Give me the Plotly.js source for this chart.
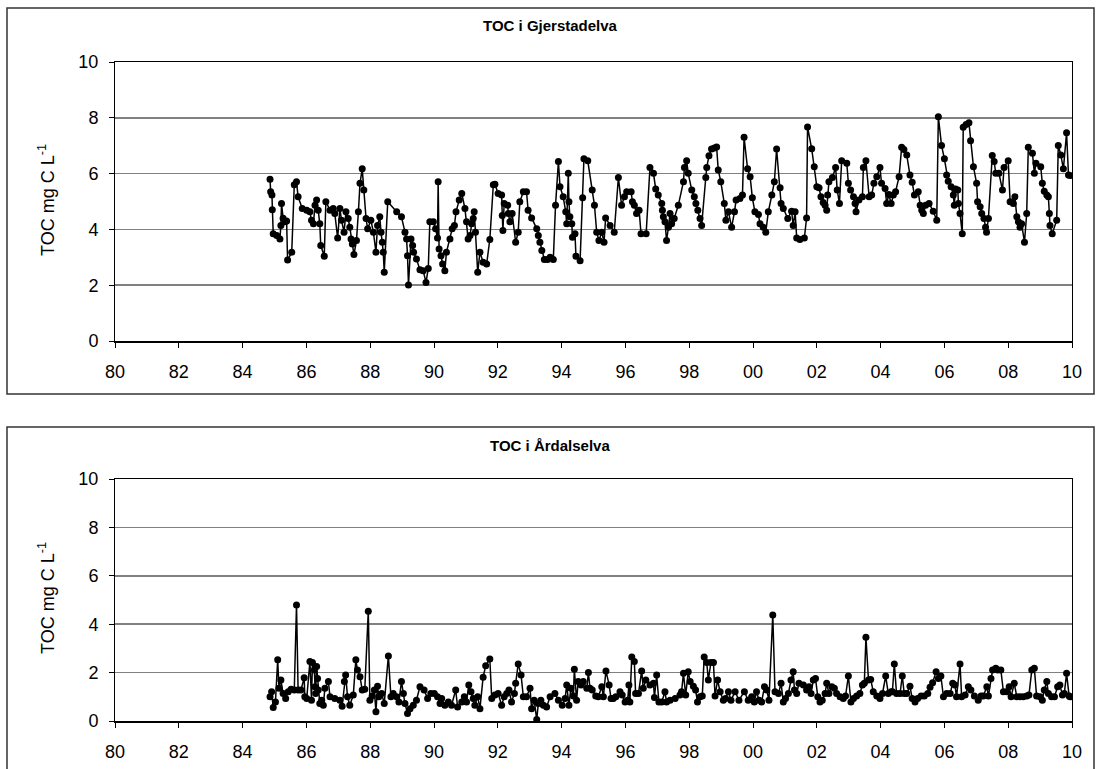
<!DOCTYPE html>
<html>
<head>
<meta charset="utf-8">
<script src="https://cdn.plot.ly/plotly-3.0.1.min.js"></script>
<style>html,body{margin:0;padding:0;background:#fff;}#chart{width:1096px;height:769px;}</style>
</head>
<body>
<div id="chart"></div>
<script>
// ---- Data (decimal year, TOC mg C/L) ----
const yearsGjerstad = [
1984.86,1984.88,1984.92,1984.93,1984.96,1985.07,1985.17,1985.20,1985.22,1985.27,1985.33,1985.38,1985.41,1985.54,1985.62,1985.69,1985.74,1985.87,
1986.01,1986.11,1986.16,1986.22,1986.27,1986.32,1986.37,1986.42,1986.45,1986.56,1986.61,1986.74,1986.84,1986.89,1986.98,
1987.05,1987.10,1987.18,1987.24,1987.31,1987.36,1987.40,1987.44,1987.49,1987.57,1987.63,1987.68,1987.75,1987.80,1987.87,1987.92,
1988.02,1988.10,1988.18,1988.23,1988.30,1988.34,1988.38,1988.41,1988.44,1988.55,1988.83,1988.98,
1989.09,1989.14,1989.17,1989.20,1989.28,1989.33,1989.36,1989.45,1989.56,1989.66,1989.75,1989.82,1989.87,1989.98,
1990.05,1990.11,1990.13,1990.16,1990.22,1990.27,1990.34,1990.39,1990.50,1990.57,1990.64,1990.69,1990.79,1990.87,1990.97,
1991.02,1991.07,1991.13,1991.18,1991.23,1991.26,1991.30,1991.37,1991.44,1991.54,1991.65,1991.75,1991.86,1991.91,
1992.01,1992.12,1992.14,1992.16,1992.20,1992.31,1992.33,1992.38,1992.45,1992.56,1992.64,1992.69,1992.80,1992.90,1992.95,
1993.06,1993.22,1993.27,1993.32,1993.38,1993.46,1993.56,1993.64,1993.74,1993.81,1993.90,1993.95,
1994.05,1994.13,1994.16,1994.21,1994.23,1994.26,1994.32,1994.34,1994.42,1994.45,1994.58,1994.66,1994.70,1994.82,1994.96,
1995.03,1995.10,1995.17,1995.26,1995.33,1995.38,1995.52,1995.65,1995.78,1995.88,1995.97,
1996.04,1996.18,1996.22,1996.28,1996.35,1996.43,1996.49,1996.65,1996.77,1996.88,1996.95,
1997.03,1997.14,1997.16,1997.19,1997.24,1997.29,1997.35,1997.40,1997.45,1997.53,1997.66,1997.82,1997.85,1997.92,1997.97,
1998.08,1998.16,1998.21,1998.27,1998.34,1998.39,1998.52,1998.55,1998.62,1998.70,1998.79,1998.86,1998.91,1998.99,
1999.10,1999.15,1999.23,1999.33,1999.42,1999.47,1999.59,1999.67,1999.72,1999.83,1999.91,1999.98,
2000.06,2000.17,2000.22,2000.32,2000.40,2000.48,2000.59,2000.67,2000.74,2000.85,2000.88,2000.95,
2001.09,2001.21,2001.26,2001.32,2001.37,2001.47,2001.61,2001.68,2001.71,2001.84,2001.92,
2002.00,2002.07,2002.13,2002.20,2002.26,2002.31,2002.34,2002.38,2002.49,2002.59,2002.64,2002.71,2002.78,2002.94,2002.99,
2003.06,2003.15,2003.20,2003.23,2003.32,2003.43,2003.46,2003.54,2003.64,2003.72,2003.79,2003.88,2003.98,
2004.03,2004.14,2004.19,2004.26,2004.33,2004.40,2004.47,2004.58,2004.66,2004.73,2004.82,2004.92,2004.99,
2005.06,2005.18,2005.24,2005.29,2005.34,2005.41,2005.52,2005.65,2005.76,2005.81,2005.91,
2006.00,2006.07,2006.12,2006.21,2006.28,2006.31,2006.35,2006.42,2006.44,2006.49,2006.56,2006.59,2006.68,2006.77,2006.82,2006.91,
2007.01,2007.04,2007.12,2007.17,2007.24,2007.29,2007.32,2007.38,2007.50,2007.56,2007.61,2007.71,2007.82,2007.87,
2008.00,2008.06,2008.16,2008.21,2008.27,2008.32,2008.37,2008.42,2008.51,2008.58,2008.63,2008.76,2008.82,2008.87,
2009.02,2009.07,2009.13,2009.21,2009.26,2009.29,2009.31,2009.38,2009.52,2009.57,2009.65,2009.73,2009.83,2009.89,2009.94
];
const tocGjerstad = [
5.80,5.35,5.23,4.70,3.84,3.78,3.66,4.14,4.93,4.40,4.27,4.30,2.90,3.18,5.60,5.71,5.17,4.75,
4.69,4.63,4.33,4.20,4.87,5.05,4.69,4.20,3.42,3.04,4.99,4.69,4.75,4.57,3.69,
4.75,4.33,3.90,4.63,4.39,4.08,3.66,3.48,3.10,3.60,4.63,5.65,6.17,5.41,4.39,4.02,
4.33,3.90,3.18,4.14,4.45,3.90,3.54,3.18,2.46,4.99,4.63,4.45,
3.90,3.66,3.06,2.01,3.66,3.42,3.18,2.94,2.55,2.52,2.10,2.60,4.27,4.27,
4.02,3.69,5.71,3.30,3.06,2.76,2.52,3.18,3.66,4.02,4.14,4.63,5.05,5.29,4.75,
4.27,3.66,3.78,4.20,4.39,4.63,3.90,2.46,3.18,2.82,2.76,3.64,5.60,5.62,
5.29,5.23,4.50,3.96,4.93,4.87,4.57,4.27,4.57,3.54,3.90,4.99,5.35,5.35,4.69,
4.41,4.02,3.78,3.54,3.24,2.92,2.92,3.00,2.92,4.87,6.43,5.53,
5.17,4.63,4.20,6.01,4.99,4.45,4.20,3.72,3.84,3.04,2.88,5.13,6.53,6.46,5.41,
4.87,3.90,3.60,3.90,3.54,4.41,4.14,3.90,5.86,4.87,5.17,
5.35,5.35,4.99,4.87,4.57,4.69,3.84,3.84,6.22,6.01,5.45,
5.23,4.93,4.69,4.45,4.27,3.60,4.08,4.57,4.20,4.39,4.87,5.71,6.22,6.46,6.01,
5.41,5.17,4.93,4.69,4.39,4.14,5.86,6.22,6.64,6.88,6.92,6.95,6.13,5.71,
4.93,4.33,4.63,4.08,4.63,5.05,5.11,5.23,7.30,6.17,5.89,5.13,
4.63,4.53,4.20,4.08,3.90,4.63,5.23,5.71,6.88,5.49,4.93,4.75,
4.39,4.65,4.14,4.63,3.69,3.64,3.69,4.41,7.67,6.89,6.25,
5.53,5.49,5.17,4.96,4.87,4.69,5.23,5.71,5.86,6.22,5.41,4.93,6.46,6.37,5.65,
5.41,5.17,4.93,4.63,5.05,5.17,6.22,6.46,5.17,5.23,5.65,5.89,6.22,
5.65,5.47,4.93,5.25,4.93,5.23,5.35,5.89,6.94,6.86,6.67,5.95,5.69,
5.23,5.35,4.87,4.69,4.57,4.87,4.93,4.65,4.33,8.04,7.01,
6.53,5.95,5.73,5.53,5.23,4.87,5.45,5.41,4.93,4.57,3.84,7.66,7.76,7.82,7.18,6.25,
5.65,4.99,4.81,4.57,4.39,4.08,3.90,4.39,6.65,6.43,6.01,6.01,5.41,6.22,
6.46,4.99,4.93,5.17,4.45,4.27,4.08,4.20,3.54,4.57,6.94,6.73,6.01,6.37,
6.25,5.65,5.37,5.23,5.17,4.57,4.14,3.84,4.33,7.01,6.67,6.17,7.46,5.95,5.93
];
const yearsArdal = [
1984.86,1984.91,1984.96,1985.03,1985.10,1985.14,1985.20,1985.27,1985.35,1985.43,1985.52,1985.62,1985.69,1985.74,1985.83,1985.93,1985.95,
1986.01,1986.11,1986.16,1986.19,1986.25,1986.27,1986.29,1986.32,1986.35,1986.37,1986.42,1986.48,1986.53,1986.58,1986.69,1986.74,1986.89,
1987.05,1987.12,1987.19,1987.23,1987.29,1987.36,1987.47,1987.55,1987.60,1987.68,1987.75,1987.83,1987.94,1987.99,
1988.06,1988.13,1988.18,1988.23,1988.27,1988.36,1988.44,1988.57,1988.65,1988.72,1988.83,1988.90,1988.98,
1989.04,1989.09,1989.17,1989.25,1989.35,1989.45,1989.56,1989.69,1989.80,1989.90,
1990.01,1990.11,1990.19,1990.24,1990.34,1990.45,1990.55,1990.68,1990.74,1990.87,1990.95,
1991.02,1991.09,1991.16,1991.23,1991.28,1991.37,1991.44,1991.54,1991.62,1991.75,1991.81,1991.91,
1992.01,1992.12,1992.20,1992.28,1992.35,1992.43,1992.52,1992.56,1992.64,1992.73,1992.80,1992.90,
1993.01,1993.06,1993.14,1993.22,1993.27,1993.35,1993.43,1993.53,1993.64,1993.79,1993.90,
1994.02,1994.11,1994.16,1994.23,1994.29,1994.37,1994.40,1994.47,1994.52,1994.61,1994.68,1994.79,1994.84,1994.89,1994.96,
1995.07,1995.15,1995.26,1995.31,1995.39,1995.49,1995.55,1995.62,1995.70,1995.83,1995.90,1995.99,
1996.07,1996.11,1996.14,1996.20,1996.28,1996.32,1996.41,1996.51,1996.56,1996.64,1996.77,1996.88,1996.91,1996.98,
1997.05,1997.14,1997.24,1997.29,1997.40,1997.56,1997.71,1997.76,1997.82,1997.89,1997.97,
1998.03,1998.13,1998.20,1998.26,1998.34,1998.41,1998.47,1998.55,1998.60,1998.68,1998.76,1998.81,1998.89,1998.97,
1999.07,1999.14,1999.23,1999.31,1999.44,1999.56,1999.73,1999.85,1999.96,
2000.04,2000.11,2000.19,2000.27,2000.36,2000.43,2000.50,2000.62,2000.69,2000.80,2000.88,2000.95,
2001.02,2001.11,2001.19,2001.26,2001.30,2001.37,2001.44,2001.58,2001.68,2001.76,2001.82,2001.89,2001.96,
2002.03,2002.10,2002.17,2002.26,2002.31,2002.38,2002.47,2002.55,2002.62,2002.73,2002.83,2002.90,2002.99,
2003.07,2003.15,2003.25,2003.35,2003.43,2003.49,2003.54,2003.62,2003.69,2003.77,2003.88,2003.98,
2004.06,2004.16,2004.24,2004.33,2004.37,2004.43,2004.50,2004.61,2004.68,2004.74,2004.82,2004.92,2004.99,
2005.08,2005.16,2005.27,2005.37,2005.48,2005.55,2005.63,2005.74,2005.81,2005.89,2005.97,
2006.07,2006.18,2006.26,2006.33,2006.38,2006.49,2006.54,2006.65,2006.75,2006.83,2006.94,
2007.06,2007.15,2007.22,2007.33,2007.38,2007.46,2007.51,2007.61,2007.67,2007.77,2007.85,2007.95,
2008.03,2008.09,2008.19,2008.27,2008.37,2008.47,2008.58,2008.65,2008.74,2008.82,2008.89,
2009.00,2009.07,2009.13,2009.21,2009.26,2009.36,2009.45,2009.55,2009.62,2009.70,2009.76,2009.83,2009.91,2009.94
];
const tocArdal = [
1.00,1.21,0.56,0.79,2.53,1.35,1.69,1.14,0.93,1.21,1.31,1.28,4.79,1.28,1.28,1.79,1.00,
0.93,2.46,0.86,2.42,2.11,1.42,1.14,2.25,1.76,1.28,0.72,0.86,0.65,1.35,1.63,1.00,0.93,
0.86,0.61,1.63,1.90,1.00,0.65,1.07,2.53,2.11,1.83,1.28,1.31,4.54,0.86,
1.03,1.28,0.38,1.44,1.00,1.14,0.72,2.69,1.00,1.14,1.00,0.79,1.63,
1.14,0.72,0.31,0.51,0.65,0.86,1.42,1.28,0.93,1.14,
1.14,1.00,0.72,0.93,0.65,0.79,0.65,1.28,0.58,0.79,1.00,
0.79,1.49,1.21,0.93,0.65,1.00,0.51,1.81,2.28,2.56,0.93,1.07,
1.14,0.65,1.00,1.14,1.28,0.79,1.14,1.56,2.36,1.90,1.00,1.00,
1.35,0.51,0.86,0.06,0.72,0.86,0.65,0.58,1.00,1.14,0.86,
0.65,0.93,1.49,0.65,1.35,1.03,2.14,0.86,1.63,1.49,1.63,1.35,2.00,1.35,1.28,
1.03,1.00,1.42,1.00,2.07,1.49,0.93,0.93,1.00,1.21,1.07,0.79,
0.86,1.49,0.79,2.64,2.46,1.14,1.14,2.07,1.35,1.69,1.49,1.56,0.97,1.90,
0.79,0.79,1.21,0.79,0.86,0.93,1.07,1.21,1.97,1.07,2.04,
1.63,1.44,1.28,0.79,1.00,1.03,2.64,2.42,1.69,2.42,2.42,1.03,1.69,1.21,
0.86,0.93,1.21,0.86,1.21,0.86,1.21,0.86,1.00,
0.79,1.21,0.86,0.79,1.42,1.28,0.86,4.38,1.21,1.14,1.56,0.79,
0.93,1.14,1.69,2.04,1.28,1.14,1.56,1.49,1.28,1.42,1.14,1.69,1.76,
1.00,0.79,0.86,1.14,1.56,1.14,1.42,1.35,1.14,1.00,0.93,1.03,1.86,
0.79,0.93,1.03,1.14,1.49,1.56,3.46,1.69,1.72,1.21,1.03,0.93,
1.14,1.86,1.14,1.21,1.21,2.36,1.14,1.14,1.86,1.14,1.14,1.44,0.93,
0.79,0.93,1.03,1.03,1.14,1.39,1.58,2.04,1.76,1.86,1.00,
1.14,1.14,1.56,1.49,1.00,2.36,1.00,1.07,1.42,1.28,1.03,
0.86,1.03,1.03,1.42,1.03,1.76,2.11,2.18,2.11,2.11,1.21,1.21,
1.42,1.00,1.56,1.00,1.00,1.00,1.03,1.07,2.11,2.18,1.03,
1.00,0.86,1.28,1.63,1.14,1.00,1.00,1.42,1.49,1.07,1.14,1.97,1.03,1.00
];
const tickYears = [1980,1982,1984,1986,1988,1990,1992,1994,1996,1998,2000,2002,2004,2006,2008,2010];
const tickLabels = ["80","82","84","86","88","90","92","94","96","98","00","02","04","06","08","10"];
const titleTop = "TOC i Gjerstadelva";
const titleBottom = "TOC i Årdalselva";
const yLabel = "TOC mg C L<sup>-1</sup>";

// ---- Geometry (px in the 1096x769 page) ----
const W = 1096, H = 769;
const px = v => v / W;
const py = v => 1 - v / H;

const FONT = "Liberation Sans, Arial, sans-serif";
const lineStyle = {color: "#000", width: 1.5};
const markerStyle = {color: "#000", size: 7, symbol: "circle"};

const traces = [
  {x: yearsGjerstad, y: tocGjerstad, xaxis: "x", yaxis: "y", type: "scatter", mode: "lines+markers", line: lineStyle, marker: markerStyle, hoverinfo: "x+y"},
  {x: yearsArdal, y: tocArdal, xaxis: "x2", yaxis: "y2", type: "scatter", mode: "lines+markers", line: lineStyle, marker: markerStyle, hoverinfo: "x+y"}
];

function xAx(anchor) {
  return {
    domain: [px(115), px(1072)], anchor: anchor, range: [1980, 2010],
    tickmode: "array", tickvals: tickYears, ticktext: tickLabels,
    ticks: "outside", ticklen: 5, tickwidth: 1, tickcolor: "#000",
    ticklabelstandoff: 9,
    showline: true, linecolor: "#000", linewidth: 1.5, mirror: true,
    showgrid: false, zeroline: false,
    tickfont: {family: FONT, size: 18, color: "#000"}
  };
}
function yAx(anchor, top, bottom) {
  return {
    domain: [py(bottom), py(top)], anchor: anchor, range: [0, 10],
    tickmode: "array", tickvals: [0, 2, 4, 6, 8, 10],
    ticks: "outside", ticklen: 5, tickwidth: 1, tickcolor: "#000",
    ticklabelstandoff: 7,
    showline: true, linecolor: "#000", linewidth: 1, mirror: true,
    showgrid: true, gridcolor: "#808080", gridwidth: 1.5, zeroline: false,
    tickfont: {family: FONT, size: 18, color: "#000"}
  };
}

const layout = {
  width: W, height: H,
  margin: {l: 0, r: 0, t: 0, b: 0, pad: 0},
  paper_bgcolor: "#fff", plot_bgcolor: "#fff",
  showlegend: false,
  font: {family: FONT, color: "#000"},
  xaxis: xAx("y"),
  yaxis: yAx("x", 62, 341),
  xaxis2: xAx("y2"),
  yaxis2: yAx("x2", 479, 721),
  shapes: [
    {type: "rect", xref: "paper", yref: "paper", x0: px(7), x1: px(1094), y0: py(394), y1: py(8), line: {color: "#333", width: 1.5}, layer: "below"},
    {type: "rect", xref: "paper", yref: "paper", x0: px(7), x1: px(1094), y0: py(775), y1: py(427), line: {color: "#333", width: 1.5}, layer: "below"}
  ],
  annotations: [
    {text: "<b>" + titleTop + "</b>", xref: "paper", yref: "paper", x: px(550), y: py(26), showarrow: false, xanchor: "center", yanchor: "middle", font: {family: FONT, size: 15, color: "#000"}},
    {text: "<b>" + titleBottom + "</b>", xref: "paper", yref: "paper", x: px(550), y: py(445), showarrow: false, xanchor: "center", yanchor: "middle", font: {family: FONT, size: 15, color: "#000"}},
    {text: yLabel, xref: "paper", yref: "paper", x: px(46), y: py(200), textangle: -90, showarrow: false, xanchor: "center", yanchor: "middle", font: {family: FONT, size: 18, color: "#000"}},
    {text: yLabel, xref: "paper", yref: "paper", x: px(46), y: py(598), textangle: -90, showarrow: false, xanchor: "center", yanchor: "middle", font: {family: FONT, size: 18, color: "#000"}}
  ]
};

Plotly.newPlot("chart", traces, layout, {displayModeBar: false, staticPlot: true});
</script>
</body>
</html>
